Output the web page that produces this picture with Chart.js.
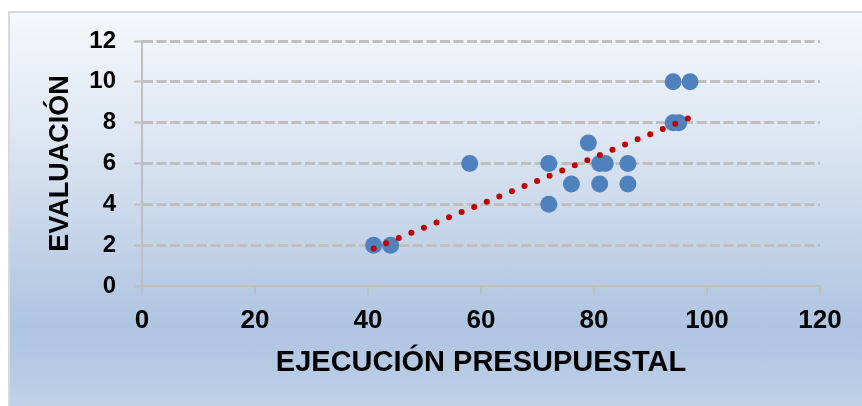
<!DOCTYPE html>
<html lang="es">
<head>
    <meta charset="UTF-8">
    <title>Evaluación vs Ejecución Presupuestal</title>
    <script src="https://cdn.jsdelivr.net/npm/chart.js"></script>
    <style>
        * {
            box-sizing: border-box;
            margin: 0;
            padding: 0;
        }
        body {
            width: 862px;
            height: 406px;
            overflow: hidden;
            background: #ffffff;
            position: relative;
        }
        .marco {
            position: absolute;
            left: 8px;
            top: 11px;
            width: 870px;
            height: 420px;
            border: 2px solid #d9d9d9;
            background: linear-gradient(to bottom, #f5f8fc 0%, #dde6f2 30%, #c3d3e8 55%, #aec4e0 76%, #b9cce5 88%, #c6d6ea 100%);
        }
        #grafico {
            position: absolute;
            left: 0;
            top: 0;
        }
    </style>
</head>
<body>
    <div class="marco"></div>
    <canvas id="grafico" width="862" height="406"></canvas>

    <script>
        // Datos
        const ejecucion = [41, 44, 58, 72, 72, 76, 79, 81, 82, 81, 86, 86, 94, 97, 94, 95];
        const evaluacion = [2, 2, 6, 6, 4, 5, 7, 6, 6, 5, 6, 5, 10, 10, 8, 8];
        const ticksX = [0, 20, 40, 60, 80, 100, 120];
        const ticksY = [0, 2, 4, 6, 8, 10, 12];

        const puntos = ejecucion.map((x, i) => ({ x: x, y: evaluacion[i] }));

        // Línea de tendencia lineal (mínimos cuadrados)
        const n = ejecucion.length;
        const mx = ejecucion.reduce((a, b) => a + b, 0) / n;
        const my = evaluacion.reduce((a, b) => a + b, 0) / n;
        let sxy = 0, sxx = 0;
        for (let i = 0; i < n; i++) {
            sxy += (ejecucion[i] - mx) * (evaluacion[i] - my);
            sxx += (ejecucion[i] - mx) * (ejecucion[i] - mx);
        }
        const pendiente = sxy / sxx;
        const intercepto = my - pendiente * mx;
        const xMin = Math.min(...ejecucion), xMax = Math.max(...ejecucion);
        const tendencia = [
            { x: xMin, y: intercepto + pendiente * xMin },
            { x: xMax, y: intercepto + pendiente * xMax }
        ];

        const gris = '#bfbfbf';

        let ctx = document.getElementById('grafico').getContext('2d');
        let chart = new Chart(ctx, {
            type: 'scatter',
            data: {
                datasets: [{
                    label: 'Tendencia',
                    data: tendencia,
                    showLine: true,
                    borderColor: '#c00000',
                    borderWidth: 6,
                    borderDash: [0, 13.6],
                    borderCapStyle: 'round',
                    pointRadius: 0,
                    order: 0
                }, {
                    label: 'Evaluación',
                    data: puntos,
                    backgroundColor: '#4f81bd',
                    borderWidth: 0,
                    pointRadius: 8.5,
                    pointHoverRadius: 8.5,
                    order: 1
                }]
            },
            options: {
                responsive: false,
                animation: false,
                events: [],
                layout: {
                    padding: { left: 0, top: 41, right: 42, bottom: 0 }
                },
                plugins: {
                    legend: { display: false },
                    tooltip: { enabled: false }
                },
                scales: {
                    x: {
                        type: 'linear',
                        min: 0,
                        max: 120,
                        afterBuildTicks: (s) => { s.ticks = ticksX.map(v => ({ value: v })); },
                        afterFit: (s) => { s.height = 120; },
                        grid: {
                            drawOnChartArea: false,
                            drawTicks: true,
                            tickLength: 9,
                            color: gris,
                            lineWidth: 2
                        },
                        border: { color: gris, width: 2 },
                        ticks: {
                            color: '#000',
                            padding: 10,
                            maxRotation: 0,
                            font: { family: 'Liberation Sans', size: 26, weight: 'bold' }
                        },
                        title: {
                            display: true,
                            text: 'EJECUCIÓN PRESUPUESTAL',
                            color: '#000',
                            font: { family: 'Liberation Sans', size: 29, weight: 'bold' },
                            padding: { top: 0, bottom: 26 }
                        }
                    },
                    y: {
                        min: 0,
                        max: 12,
                        afterBuildTicks: (s) => { s.ticks = ticksY.map(v => ({ value: v })); },
                        afterFit: (s) => { s.width = 142; },
                        grid: {
                            color: (c) => c.tick && c.tick.value === 0 ? 'rgba(0,0,0,0)' : gris,
                            tickColor: gris,
                            lineWidth: 3,
                            tickWidth: 2,
                            tickLength: 8,
                            drawTicks: true
                        },
                        border: { color: gris, width: 2, dash: [10, 3.5] },
                        ticks: {
                            color: '#000',
                            padding: 18,
                            font: { family: 'Liberation Sans', size: 24, weight: 'bold' }
                        },
                        title: {
                            display: true,
                            text: 'EVALUACIÓN',
                            color: '#000',
                            font: { family: 'Liberation Sans', size: 27, weight: 'bold' },
                            padding: { top: 44, bottom: 0 }
                        }
                    }
                }
            }
        });
    </script>
</body>
</html>
